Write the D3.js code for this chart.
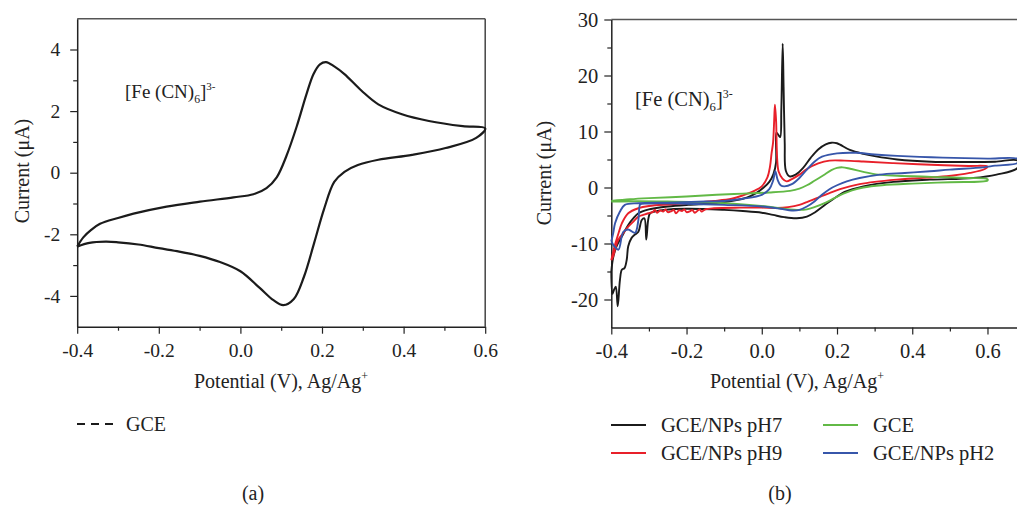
<!DOCTYPE html>
<html><head><meta charset="utf-8">
<script src="https://cdn.jsdelivr.net/npm/d3@7"></script>
<style>
body{margin:0;background:#fff;}
svg{display:block;font-family:"Liberation Serif","Times New Roman",serif;}
</style></head>
<body>
<svg id="c" width="1017" height="508"></svg>
<script>
// ---------- DATA ----------
// Panel (a): GCE cyclic voltammogram [potential V, current µA]
const gceAForward = [[-0.4,-2.4],[-0.385,-2.1],[-0.365,-1.85],[-0.344,-1.66],[-0.3,-1.47],[-0.262,-1.33],[-0.181,-1.1],[-0.099,-0.94],[-0.017,-0.8],[0.032,-0.7],[0.064,-0.5],[0.089,-0.15],[0.113,0.55],[0.138,1.5],[0.162,2.55],[0.179,3.2],[0.195,3.52],[0.21,3.59],[0.23,3.45],[0.255,3.2],[0.297,2.66],[0.338,2.22],[0.396,1.9],[0.462,1.68],[0.545,1.51],[0.6,1.44]];
const gceAReverse = [[0.6,1.44],[0.578,1.13],[0.503,0.8],[0.421,0.58],[0.338,0.42],[0.288,0.25],[0.255,0.03],[0.23,-0.3],[0.205,-1.18],[0.181,-2.27],[0.156,-3.37],[0.131,-4.1],[0.105,-4.3],[0.081,-4.14],[0.048,-3.75],[0.0,-3.2],[-0.05,-2.9],[-0.1,-2.7],[-0.15,-2.56],[-0.2,-2.45],[-0.25,-2.33],[-0.3,-2.26],[-0.33,-2.24],[-0.37,-2.28],[-0.4,-2.4]];

// Panel (b)
const pH7Forward = [[-0.4,-15],[-0.395,-12.5],[-0.386,-10.5],[-0.372,-8.75],[-0.355,-6.7],[-0.34,-5.4],[-0.328,-4.6],[-0.3,-3.9],[-0.284,-3.7],[-0.25,-3.4],[-0.195,-3.1],[-0.125,-2.8],[-0.07,-2.3],[-0.04,-1.8],[-0.015,-1.0],[0.005,0.0],[0.02,1.0],[0.031,2.4],[0.038,4.5],[0.039,9.8],[0.045,9.3],[0.049,9.0],[0.052,14],[0.0556,25.7],[0.058,18],[0.061,8],[0.064,3],[0.074,2.0],[0.09,2.3],[0.11,3.5],[0.13,5.3],[0.15,6.8],[0.17,7.7],[0.185,8.0],[0.2,7.9],[0.234,6.7],[0.27,6.0],[0.3,5.6],[0.36,5.0],[0.45,4.6],[0.55,4.55],[0.62,4.6],[0.68,4.8]];
const pH7Reverse = [[0.68,3.5],[0.624,2.3],[0.562,1.7],[0.447,1.4],[0.35,1.0],[0.27,0.2],[0.22,-0.8],[0.2,-1.6],[0.17,-3.0],[0.14,-4.5],[0.12,-5.2],[0.093,-5.5],[0.06,-5.3],[0.03,-4.9],[0.0,-4.5],[-0.05,-4.2],[-0.1,-4.0],[-0.2,-3.8],[-0.26,-4.0],[-0.285,-4.3],[-0.297,-4.6],[-0.302,-5.8],[-0.307,-9.3],[-0.312,-5.5],[-0.319,-5.8],[-0.328,-7.9],[-0.337,-8.4],[-0.346,-9],[-0.355,-10.5],[-0.359,-12.9],[-0.365,-14.4],[-0.372,-14.7],[-0.377,-16.5],[-0.383,-21.2],[-0.388,-17.7],[-0.393,-18.3],[-0.397,-19],[-0.4,-15]];

const pH9Forward = [[-0.4,-13],[-0.395,-11.5],[-0.39,-10.2],[-0.38,-8],[-0.372,-6.4],[-0.355,-4.6],[-0.328,-3.7],[-0.3,-3.3],[-0.24,-3.0],[-0.18,-2.7],[-0.127,-2.4],[-0.08,-2.0],[-0.05,-1.4],[-0.02,-0.6],[0.0,0.2],[0.015,1.8],[0.022,3.8],[0.026,6.1],[0.03,8],[0.033,12],[0.035,14.8],[0.038,12],[0.041,5],[0.045,2.8],[0.055,1.6],[0.066,1.1],[0.08,1.5],[0.1,2.3],[0.12,3.3],[0.15,4.3],[0.18,4.8],[0.22,4.8],[0.27,4.65],[0.35,4.35],[0.45,4.05],[0.55,3.85],[0.6,3.75]];
const pH9Reverse = [[0.6,3.75],[0.593,3.3],[0.553,2.6],[0.492,2.0],[0.4,1.6],[0.359,1.4],[0.3,1.0],[0.26,0.6],[0.234,0.2],[0.208,-0.3],[0.18,-1.0],[0.146,-1.9],[0.12,-2.6],[0.1,-3.1],[0.07,-3.5],[0.04,-3.65],[0.0,-3.6],[-0.058,-3.6],[-0.127,-3.7],[-0.15,-3.9],[-0.16,-4.3],[-0.165,-3.9],[-0.17,-4.1],[-0.178,-4.5],[-0.185,-4.0],[-0.19,-4.2],[-0.2,-4.4],[-0.206,-3.9],[-0.212,-4.2],[-0.22,-4.1],[-0.228,-4.6],[-0.234,-4.0],[-0.24,-4.2],[-0.25,-4.4],[-0.256,-3.9],[-0.262,-4.3],[-0.27,-4.1],[-0.278,-4.5],[-0.284,-4.0],[-0.29,-4.4],[-0.302,-4.6],[-0.315,-4.9],[-0.328,-5.2],[-0.34,-6],[-0.355,-7],[-0.37,-8.3],[-0.381,-9.3],[-0.39,-11],[-0.395,-12.3],[-0.4,-13]];

const gceForward = [[-0.4,-2.4],[-0.35,-2.1],[-0.3,-1.9],[-0.2,-1.6],[-0.12,-1.3],[-0.05,-1.1],[0.02,-0.9],[0.075,-0.6],[0.1,-0.2],[0.12,0.4],[0.14,1.2],[0.164,2.2],[0.185,3.1],[0.2,3.5],[0.215,3.6],[0.235,3.35],[0.27,2.8],[0.31,2.3],[0.36,2.1],[0.45,1.9],[0.55,1.7],[0.6,1.5]];
const gceReverse = [[0.6,1.5],[0.6,1.25],[0.5,0.95],[0.4,0.7],[0.32,0.4],[0.27,0.0],[0.24,-0.5],[0.217,-1.1],[0.19,-2.0],[0.17,-2.7],[0.14,-3.5],[0.12,-3.9],[0.1,-4.0],[0.06,-3.8],[0.013,-3.4],[-0.076,-2.9],[-0.165,-2.6],[-0.25,-2.5],[-0.33,-2.45],[-0.4,-2.5]];

const pH2Forward = [[-0.4,-9.6],[-0.395,-8.2],[-0.39,-6.4],[-0.377,-4.3],[-0.364,-3.1],[-0.328,-2.8],[-0.25,-2.7],[-0.15,-2.5],[-0.1,-2.4],[-0.05,-2.0],[0.0,-1.3],[0.02,-0.3],[0.03,1.2],[0.036,2.9],[0.042,1.4],[0.05,0.4],[0.06,0.2],[0.08,0.6],[0.1,1.7],[0.12,3.2],[0.14,4.6],[0.16,5.5],[0.2,6.1],[0.25,6.2],[0.3,5.9],[0.36,5.65],[0.45,5.4],[0.54,5.25],[0.6,5.15],[0.68,5.1]];
const pH2Reverse = [[0.68,4.4],[0.62,3.9],[0.589,3.6],[0.5,3.2],[0.447,2.9],[0.38,2.6],[0.314,2.3],[0.26,1.7],[0.226,1.1],[0.2,0.4],[0.18,-0.3],[0.16,-1.3],[0.14,-2.5],[0.12,-3.4],[0.1,-4.0],[0.08,-4.1],[0.05,-3.8],[0.0,-3.4],[-0.1,-3.1],[-0.2,-2.9],[-0.3,-2.85],[-0.32,-2.9],[-0.324,-3.1],[-0.328,-5.8],[-0.337,-8.1],[-0.355,-7.5],[-0.368,-7.9],[-0.381,-11.1],[-0.392,-10.5],[-0.4,-9.6]];

const seriesNames = ["GCE/NPs pH7","GCE/NPs pH9","GCE","GCE/NPs pH2"];
const seriesColors = ["#1b1b1b","#e8202a","#62b946","#3756aa"];

const xTicks = [-0.4,-0.2,0.0,0.2,0.4,0.6];
const xTickLabels = ["-0.4","-0.2","0.0","0.2","0.4","0.6"];
const xMinor = [-0.3,-0.1,0.1,0.3,0.5];
const yTicksA = [-4,-2,0,2,4];
const yTickLabelsA = ["-4","-2","0","2","4"];
const yMinorA = [-3,-1,1,3];
const yTicksB = [-20,-10,0,10,20,30];
const yTickLabelsB = ["-20","-10","0","10","20","30"];
const yMinorB = [-15,-5,5,15,25];

// ---------- DRAW ----------
const svg = d3.select("#c");
svg.append("rect").attr("width",1017).attr("height",508).attr("fill","#fff");

const axisColor = "#222";

function drawPanel(x, y, yTicks, yLabels, yMinor, yPad, frameRight, fontSize) {
  const g = svg.append("g");
  const [x0,x1] = x.range(); const [y0,y1] = y.range();
  g.append("line").attr("x1",x0).attr("x2",x1).attr("y1",y1).attr("y2",y1).attr("stroke","#555").attr("stroke-width",1.5);
  if (frameRight) g.append("line").attr("x1",x1).attr("x2",x1).attr("y1",y1).attr("y2",y0).attr("stroke","#444").attr("stroke-width",1.5);
  g.append("g").attr("transform",`translate(0,${y0})`)
    .call(d3.axisBottom(x).tickValues(xTicks).tickSize(7).tickSizeOuter(0).tickPadding(9)
      .tickFormat((d,i)=>xTickLabels[i]));
  g.append("g").attr("transform",`translate(0,${y0})`)
    .call(d3.axisBottom(x).tickValues(xMinor).tickSize(4).tickSizeOuter(0).tickFormat(""))
    .select(".domain").remove();
  g.append("g").attr("transform",`translate(${x0},0)`)
    .call(d3.axisLeft(y).tickValues(yTicks).tickSize(7).tickSizeOuter(0).tickPadding(yPad)
      .tickFormat((d,i)=>yLabels[i]));
  g.append("g").attr("transform",`translate(${x0},0)`)
    .call(d3.axisLeft(y).tickValues(yMinor).tickSize(4).tickSizeOuter(0).tickFormat(""))
    .select(".domain").remove();
  g.selectAll(".domain").attr("stroke",axisColor).attr("stroke-width",1.5);
  g.selectAll(".tick line").attr("stroke",axisColor).attr("stroke-width",1.2);
  g.selectAll(".tick text").attr("fill","#222").style("font-size",fontSize+"px")
    .style("font-family",'"Liberation Serif","Times New Roman",serif');
  return g;
}

// Panel (a)
const xA = d3.scaleLinear().domain([-0.4,0.6]).range([77.2,485.2]);
const yA = d3.scaleLinear().domain([-5,5]).range([326.7,18.7]);
drawPanel(xA, yA, yTicksA, yTickLabelsA, yMinorA, 10, true, 19.5);

// Panel (b)
const xB = d3.scaleLinear().domain([-0.4,0.7]).range([611.3,1025.1]);
const yB = d3.scaleLinear().domain([-25,30]).range([327.5,19.5]);
drawPanel(xB, yB, yTicksB, yTickLabelsB, yMinorB, 6, false, 20.5);

const lineA = d3.line().x(d=>xA(d[0])).y(d=>yA(d[1])).curve(d3.curveCatmullRom.alpha(0.5));
const lineB = d3.line().x(d=>xB(d[0])).y(d=>yB(d[1])).curve(d3.curveCatmullRom.alpha(0.5));

svg.append("path").attr("d", lineA(gceAForward.concat(gceAReverse.slice(1))))
  .attr("fill","none").attr("stroke","#1b1b1b").attr("stroke-width",2.2).attr("stroke-linejoin","round");

const curvesB = [
  pH7Forward.concat(pH7Reverse),
  pH9Forward.concat(pH9Reverse.slice(1)),
  gceForward.concat(gceReverse.slice(1)),
  pH2Forward.concat(pH2Reverse)
];
curvesB.forEach((c,i)=>{
  svg.append("path").attr("d", lineB(c)).attr("fill","none")
    .attr("stroke",seriesColors[i]).attr("stroke-width",1.9).attr("stroke-linejoin","round");
});

// ---------- TEXT ----------
function title(xp, yp, size) {
  const t = svg.append("text").attr("x",xp).attr("y",yp).attr("fill","#222").style("font-size",size+"px");
  t.append("tspan").text("[Fe (CN)");
  t.append("tspan").text("6").style("font-size",(size*0.62)+"px").attr("dy",5);
  t.append("tspan").text("]").attr("dy",-5);
  t.append("tspan").text("3-").style("font-size",(size*0.58)+"px").attr("dy",-8);
}
title(125, 98, 19);
title(635, 106, 20.5);

function xlabel(cx, yp) {
  const t = svg.append("text").attr("x",cx).attr("y",yp).attr("text-anchor","middle").attr("fill","#222").style("font-size","20px");
  t.append("tspan").text("Potential (V), Ag/Ag");
  t.append("tspan").text("+").style("font-size","12px").attr("dy",-8);
}
xlabel(281, 388);
xlabel(797, 388);

function ylabel(xp, cy) {
  svg.append("text").attr("transform",`translate(${xp},${cy}) rotate(-90)`).attr("text-anchor","middle")
    .attr("fill","#222").style("font-size","20px").text("Current (μA)");
}
ylabel(29, 171);
ylabel(551, 173);

// Legend (a)
svg.append("line").attr("x1",77).attr("x2",113).attr("y1",424).attr("y2",424)
  .attr("stroke","#1b1b1b").attr("stroke-width",2).attr("stroke-dasharray","8,6");
svg.append("text").attr("x",126).attr("y",431).attr("fill","#222").style("font-size","20px").text("GCE");

// Legend (b)
const legPos = [[611,425],[611,453],[823,425],[823,453]];
seriesNames.forEach((n,i)=>{
  const [lx,ly] = legPos[i];
  svg.append("line").attr("x1",lx).attr("x2",lx+35).attr("y1",ly).attr("y2",ly)
    .attr("stroke",seriesColors[i]).attr("stroke-width",2);
  svg.append("text").attr("x",lx+50).attr("y",ly+7).attr("fill","#222").style("font-size","20.5px").text(n);
});

svg.append("text").attr("x",253).attr("y",500).attr("text-anchor","middle").attr("fill","#222").style("font-size","20px").text("(a)");
svg.append("text").attr("x",780).attr("y",500).attr("text-anchor","middle").attr("fill","#222").style("font-size","20px").text("(b)");
</script>
</body></html>
